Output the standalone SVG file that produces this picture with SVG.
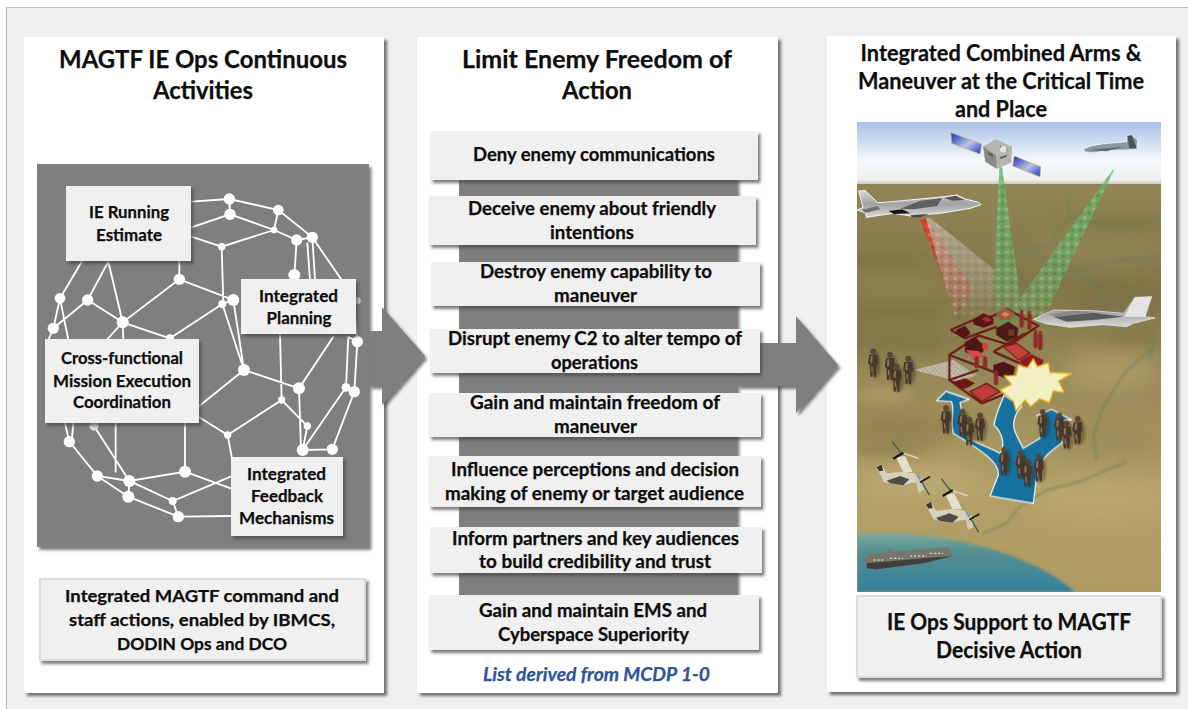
<svg xmlns="http://www.w3.org/2000/svg" width="1188" height="709" viewBox="0 0 1188 709">
<style>
text{font-family:"Lato","Carlito","Liberation Sans",sans-serif;font-weight:700;fill:#0d0d0d;stroke:#0d0d0d;stroke-width:.25px;text-anchor:middle}
.t{font-size:25px}.t3{font-size:23px}.b{font-size:17.5px}.m{font-size:18px}.d{font-size:22px}
.note{font-size:18px;font-style:italic;fill:#2f5597;stroke:#2f5597}
.panel{fill:#fff;filter:url(#sh)}
.box{fill:#f0f0f0;filter:url(#sh2)}
.bbox{fill:#f0f0f0;stroke:#dcdcdc;stroke-width:2;filter:url(#sh2)}
.net{fill:none;stroke:#fff;stroke-width:5.500;stroke-linecap:round}
.nd{fill:#fff}
.river{fill:none;stroke:#66805f;stroke-width:7;stroke-linejoin:round;opacity:.5;filter:url(#bl3)}
.road{fill:none;stroke:#6e1d1c;stroke-width:7;stroke-linejoin:round}
.fig{stroke:#8c2c26;stroke-width:13;stroke-linecap:round;fill:none}
</style>
<defs>
<filter id="sh" x="-5%" y="-5%" width="110%" height="110%"><feDropShadow dx="3" dy="3" stdDeviation="1.6" flood-color="#444" flood-opacity=".75"/></filter>
<filter id="sh2" x="-5%" y="-10%" width="110%" height="125%"><feDropShadow dx="2.5" dy="3" stdDeviation="1.5" flood-color="#444" flood-opacity=".7"/></filter>
<filter id="soft" x="-2%" y="-2%" width="104%" height="104%"><feGaussianBlur stdDeviation="0.6"/></filter>
<filter id="bl1" x="-20%" y="-20%" width="140%" height="140%"><feGaussianBlur stdDeviation="1.5"/></filter>
<filter id="bl3" x="-20%" y="-20%" width="140%" height="140%"><feGaussianBlur stdDeviation="3"/></filter>
<filter id="bl6" x="-40%" y="-80%" width="180%" height="260%"><feGaussianBlur stdDeviation="6"/></filter>
<filter id="bl12" x="-40%" y="-80%" width="180%" height="260%"><feGaussianBlur stdDeviation="12"/></filter>
<linearGradient id="sky" x1="0" y1="0" x2="0" y2="1"><stop offset="0" stop-color="#a6bfe4"/><stop offset=".25" stop-color="#c8d8ee"/><stop offset=".6" stop-color="#f4f8fb"/><stop offset=".9" stop-color="#eef1f1"/><stop offset="1" stop-color="#b8b5a0"/></linearGradient>
<linearGradient id="land" x1="0" y1="0" x2="0" y2="1"><stop offset="0" stop-color="#918556"/><stop offset=".25" stop-color="#82774a"/><stop offset=".5" stop-color="#9a8b58"/><stop offset=".75" stop-color="#b3a068"/><stop offset="1" stop-color="#b09c62"/></linearGradient>
<linearGradient id="sea" x1="0" y1="0" x2="0" y2="1"><stop offset="0" stop-color="#7faa9c"/><stop offset=".3" stop-color="#55908f"/><stop offset="1" stop-color="#347f9c"/></linearGradient>
<linearGradient id="jet" x1="0" y1="0" x2="0" y2="1"><stop offset="0" stop-color="#d8d8d8"/><stop offset=".5" stop-color="#a2a2a2"/><stop offset="1" stop-color="#dadada"/></linearGradient>
<linearGradient id="solar" x1="0" y1="0" x2="1" y2="1"><stop offset="0" stop-color="#1730b8"/><stop offset=".55" stop-color="#b9c4e6"/><stop offset="1" stop-color="#1a35c0"/></linearGradient>
<linearGradient id="gfade" x1="0" y1="0" x2="0" y2="1"><stop offset="0" stop-color="#66b56a" stop-opacity=".8"/><stop offset=".8" stop-color="#6cab68" stop-opacity=".6"/><stop offset="1" stop-color="#6fb46c" stop-opacity=".2"/></linearGradient>
<linearGradient id="rfade" x1="0" y1="0" x2="0" y2="1"><stop offset="0" stop-color="#d8432e" stop-opacity=".95"/><stop offset=".7" stop-color="#bd4c38" stop-opacity=".65"/><stop offset="1" stop-color="#a8705a" stop-opacity="0"/></linearGradient>
<linearGradient id="wfade" x1="0" y1="0" x2="0" y2="1"><stop offset="0" stop-color="#c9bfae" stop-opacity=".7"/><stop offset=".7" stop-color="#a89c86" stop-opacity=".5"/><stop offset="1" stop-color="#968a70" stop-opacity="0"/></linearGradient>
<pattern id="cells" width="26" height="26" patternUnits="userSpaceOnUse"><ellipse cx="7" cy="7" rx="6" ry="5" fill="#fff" opacity=".2"/><ellipse cx="20" cy="19" rx="6" ry="5" fill="#000" opacity=".13"/></pattern>
<pattern id="dots" width="14" height="14" patternUnits="userSpaceOnUse"><circle cx="4" cy="4" r="3" fill="#fff" opacity=".75"/><circle cx="11" cy="11" r="3" fill="#fff" opacity=".55"/></pattern>
<g id="soldier"><ellipse cx="6" cy="3" rx="17" ry="40" fill="#2c2418" opacity=".35" filter="url(#bl3)"/><circle cx="0" cy="-36" r="8.500" fill="#5a4434"/><path d="M-12-26h24l3 26-5 4-2 36h-6l-2-26-3 26h-6l-1-36-6-4z" fill="#4a372a"/><path d="M-8-22h6l-1 20h-6zM-6 10h4v16h-4z" fill="#8a7460"/></g>
<g id="osprey">
<path d="M20 82 35 74 50 100 100 95 135 100 155 110 150 125 120 130 100 136 60 130 42 126Z" fill="#d8d3bf"/>
<path d="M50 122 90 108 118 118 100 136 60 130Z" fill="#4f4d44"/>
<path d="M20 82 35 74 40 92 28 94Z" fill="#39382f"/>
<path d="M78 52 105 48 128 96 100 96Z" fill="#e3dfcd"/>
<path d="M135 112 155 108 162 150 146 158Z" fill="#cfcab6"/>
<path d="M135 100 155 110 150 122Z" fill="#7d9aa8"/>
<path d="M66 4 92 38" stroke="#3f5a56" stroke-width="4"/><path d="M100 40 145 55" stroke="#d6d3c2" stroke-width="5"/>
<path d="M70 56 100 38" stroke="#15150f" stroke-width="7"/>
<path d="M150 127 180 110" stroke="#15150f" stroke-width="5"/><path d="M155 125 178 165" stroke="#3f5a56" stroke-width="4"/>
</g>
</defs>

<rect width="1188" height="709" fill="#fff"/>
<rect x="6.500" y="7.500" width="1190" height="710" fill="#f0f0f0" stroke="#bdbdbd"/>

<g id="panels">
<rect id="panel-1" class="panel" x="24" y="37" width="360" height="656"/>
<rect id="panel-2" class="panel" x="417" y="37" width="361" height="656"/>
<rect id="panel-3" class="panel" x="827" y="36" width="349" height="656"/>
</g>

<g id="panel-1-title">
<text class="t" x="203" y="68" textLength="288" lengthAdjust="spacingAndGlyphs">MAGTF IE Ops Continuous</text>
<text class="t" x="203" y="99" textLength="100" lengthAdjust="spacingAndGlyphs">Activities</text>
</g>
<g id="panel-2-title">
<text class="t" x="597" y="68" textLength="270" lengthAdjust="spacingAndGlyphs">Limit Enemy Freedom of</text>
<text class="t" x="597" y="99" textLength="70" lengthAdjust="spacingAndGlyphs">Action</text>
</g>
<g id="panel-3-title">
<text class="t3" x="1001" y="61" textLength="281" lengthAdjust="spacingAndGlyphs">Integrated Combined Arms &amp;</text>
<text class="t3" x="1001" y="89" textLength="286" lengthAdjust="spacingAndGlyphs">Maneuver at the Critical Time</text>
<text class="t3" x="1001" y="117" textLength="92" lengthAdjust="spacingAndGlyphs">and Place</text>
</g>

<g id="sphere">
<rect x="37" y="164" width="332" height="383" fill="#7f7f7f" filter="url(#sh2)"/>
<g transform="translate(20 150) scale(.33333)">
<path class="net" d="M514 155 628 147 775 180 877 262M775 180 762 240M514 232 630 193 762 240 830 270 877 262 965 390M628 147 630 193M514 260 605 290 762 240M605 290 610 462M830 270 823 375M877 262 885 390M862 280 870 390M478 388V330M478 388 640 450 607 462 450 565M478 388 308 517 450 565M640 450 672 660M607 462 672 660M308 517 203 450 265 335 308 517 260 570M308 517 310 570M203 450 100 535 120 445 185 335M120 445 145 570M100 535 85 570M672 660 535 770M672 660 837 715 940 560M837 715 843 900M780 553 785 750 623 855 535 800M785 750 862 828 848 900 937 898 1003 725 1012 575 985 560 978 712 1003 725M978 712 848 900M623 855 635 920M495 820V965L328 993 222 828M495 965 632 1015M287 820V965M135 820 148 875 232 978 328 993 458 1053 632 980M160 820 155 875M232 978 325 1040 475 1100 632 1098M328 993 325 1040M458 1053 475 1100M1000 440 1012 575"/>
<g class="nd">
<circle cx="628" cy="147" r="17"/><circle cx="775" cy="180" r="16"/><circle cx="630" cy="193" r="17"/><circle cx="762" cy="240" r="10"/><circle cx="830" cy="270" r="17"/><circle cx="877" cy="262" r="17"/><circle cx="605" cy="290" r="11"/><circle cx="823" cy="375" r="18"/><circle cx="478" cy="388" r="17"/><circle cx="640" cy="450" r="18"/><circle cx="607" cy="462" r="12"/><circle cx="120" cy="445" r="16"/><circle cx="203" cy="450" r="17"/><circle cx="100" cy="535" r="17"/><circle cx="308" cy="517" r="18"/><circle cx="450" cy="565" r="12"/><circle cx="672" cy="660" r="18"/><circle cx="837" cy="715" r="18"/><circle cx="785" cy="750" r="11"/><circle cx="1012" cy="575" r="17"/><circle cx="978" cy="712" r="13"/><circle cx="1003" cy="725" r="17"/><circle cx="862" cy="828" r="11"/><circle cx="848" cy="900" r="18"/><circle cx="937" cy="898" r="17"/><circle cx="623" cy="855" r="11"/><circle cx="148" cy="875" r="17"/><circle cx="222" cy="828" r="14" fill="#ddd"/><circle cx="232" cy="978" r="17"/><circle cx="328" cy="993" r="18"/><circle cx="495" cy="965" r="18"/><circle cx="325" cy="1040" r="18"/><circle cx="458" cy="1053" r="12"/><circle cx="475" cy="1100" r="17"/><circle cx="1012" cy="452" r="10" fill="#ddd"/>
</g>
</g>
</g>
<g id="node-running-estimate"><rect class="box" x="66" y="186" width="125" height="75"/>
<text class="b" x="129" y="218" textLength="80" lengthAdjust="spacingAndGlyphs">IE Running</text>
<text class="b" x="129" y="241" textLength="66" lengthAdjust="spacingAndGlyphs">Estimate</text></g>
<g id="node-integrated-planning"><rect class="box" x="241" y="279" width="115" height="55"/>
<text class="b" x="298.500" y="302" textLength="79" lengthAdjust="spacingAndGlyphs">Integrated</text>
<text class="b" x="299" y="324" textLength="65" lengthAdjust="spacingAndGlyphs">Planning</text></g>
<g id="node-cross-functional"><rect class="box" x="45" y="339" width="154" height="84"/>
<text class="b" x="122" y="364" textLength="122" lengthAdjust="spacingAndGlyphs">Cross-functional</text>
<text class="b" x="122" y="387" textLength="138" lengthAdjust="spacingAndGlyphs">Mission Execution</text>
<text class="b" x="122" y="408" textLength="98" lengthAdjust="spacingAndGlyphs">Coordination</text></g>
<g id="node-feedback"><rect class="box" x="231" y="457" width="112" height="79"/>
<text class="b" x="286.500" y="480" textLength="79" lengthAdjust="spacingAndGlyphs">Integrated</text>
<text class="b" x="287" y="502" textLength="72" lengthAdjust="spacingAndGlyphs">Feedback</text>
<text class="b" x="286.500" y="524" textLength="95" lengthAdjust="spacingAndGlyphs">Mechanisms</text></g>
<g id="node-command-staff"><rect class="bbox" x="40" y="579" width="325" height="81"/>
<text class="b" x="202" y="602" textLength="274" lengthAdjust="spacingAndGlyphs">Integrated MAGTF command and</text>
<text class="b" x="202" y="626" textLength="266" lengthAdjust="spacingAndGlyphs">staff actions, enabled by IBMCS,</text>
<text class="b" x="202" y="650" textLength="170" lengthAdjust="spacingAndGlyphs">DODIN Ops and DCO</text></g>

<g id="connectors">
<polygon points="369,331 382,331 382,307 425,356 382,405 382,386 369,386" fill="#7f7f7f" filter="url(#sh2)"/>
<rect x="459" y="175" width="278" height="425" fill="#7f7f7f" filter="url(#sh2)"/>
<polygon points="737,343 796,343 796,316 838,365 796,413 796,386 737,386" fill="#7f7f7f" filter="url(#sh2)"/>
</g>

<g id="node-deny"><rect class="box" x="430" y="131" width="328" height="49"/>
<text class="m" x="594" y="161" textLength="242" lengthAdjust="spacingAndGlyphs">Deny enemy communications</text></g>
<g id="node-deceive"><rect class="box" x="429" y="196" width="327" height="49"/>
<text class="m" x="592" y="215" textLength="248" lengthAdjust="spacingAndGlyphs">Deceive enemy about friendly</text>
<text class="m" x="592" y="239" textLength="84" lengthAdjust="spacingAndGlyphs">intentions</text></g>
<g id="node-destroy"><rect class="box" x="431" y="262" width="329" height="44"/>
<text class="m" x="596" y="278" textLength="232" lengthAdjust="spacingAndGlyphs">Destroy enemy capability to</text>
<text class="m" x="595.500" y="302" textLength="83" lengthAdjust="spacingAndGlyphs">maneuver</text></g>
<g id="node-disrupt"><rect class="box" x="430" y="329" width="330" height="44"/>
<text class="m" x="595" y="345" textLength="294" lengthAdjust="spacingAndGlyphs">Disrupt enemy C2 to alter tempo of</text>
<text class="m" x="594.500" y="369" textLength="87" lengthAdjust="spacingAndGlyphs">operations</text></g>
<g id="node-gain-freedom"><rect class="box" x="429" y="393" width="332" height="44"/>
<text class="m" x="595" y="409" textLength="250" lengthAdjust="spacingAndGlyphs">Gain and maintain freedom of</text>
<text class="m" x="595.500" y="433" textLength="83" lengthAdjust="spacingAndGlyphs">maneuver</text></g>
<g id="node-influence"><rect class="box" x="429" y="456" width="332" height="51"/>
<text class="m" x="595" y="476" textLength="288" lengthAdjust="spacingAndGlyphs">Influence perceptions and decision</text>
<text class="m" x="594.500" y="500" textLength="299" lengthAdjust="spacingAndGlyphs">making of enemy or target audience</text></g>
<g id="node-inform"><rect class="box" x="430" y="527" width="332" height="46"/>
<text class="m" x="595.500" y="545" textLength="287" lengthAdjust="spacingAndGlyphs">Inform partners and key audiences</text>
<text class="m" x="595" y="568" textLength="232" lengthAdjust="spacingAndGlyphs">to build credibility and trust</text></g>
<g id="node-gain-ems"><rect class="box" x="429" y="595" width="330" height="55"/>
<text class="m" x="593" y="617" textLength="228" lengthAdjust="spacingAndGlyphs">Gain and maintain EMS and</text>
<text class="m" x="593.500" y="641" textLength="191" lengthAdjust="spacingAndGlyphs">Cyberspace Superiority</text></g>
<text class="note" x="596.500" y="681" textLength="227" lengthAdjust="spacingAndGlyphs">List derived from MCDP 1-0</text>

<g id="scene">
<clipPath id="sc"><rect x="857" y="122" width="304" height="470"/></clipPath>
<g clip-path="url(#sc)"><g filter="url(#soft)">
<rect x="857" y="122" width="304" height="64" fill="url(#sky)"/>
<rect x="857" y="184" width="304" height="408" fill="url(#land)"/>
<g filter="url(#bl12)">
<ellipse cx="890" cy="340" rx="70" ry="8" fill="#5f5730" opacity=".5"/>
<ellipse cx="900" cy="285" rx="60" ry="7" fill="#b0a26c" opacity=".5"/>
<ellipse cx="1100" cy="250" rx="70" ry="12" fill="#a09260" opacity=".5"/>
<ellipse cx="1120" cy="300" rx="60" ry="10" fill="#6d6436" opacity=".5"/>
<ellipse cx="1110" cy="370" rx="50" ry="18" fill="#c2ad72" opacity=".55"/>
<ellipse cx="900" cy="430" rx="60" ry="10" fill="#6d6238" opacity=".55"/>
<ellipse cx="920" cy="480" rx="60" ry="14" fill="#c7b37a" opacity=".6"/>
<ellipse cx="1100" cy="500" rx="70" ry="20" fill="#c0ac72" opacity=".6"/>
<ellipse cx="1110" cy="445" rx="60" ry="8" fill="#7d7446" opacity=".4"/>
</g>
<g filter="url(#bl6)">
<ellipse cx="880" cy="262" rx="40" ry="3" fill="#665d30" opacity=".5"/>
<ellipse cx="900" cy="312" rx="50" ry="3" fill="#5c5329" opacity=".5"/>
<ellipse cx="885" cy="395" rx="30" ry="4" fill="#c8b57e" opacity=".6"/>
<ellipse cx="1120" cy="225" rx="40" ry="3" fill="#6c6434" opacity=".5"/>
<ellipse cx="1130" cy="340" rx="28" ry="3" fill="#6c6434" opacity=".5"/>
<ellipse cx="890" cy="450" rx="40" ry="3" fill="#5c5329" opacity=".5"/>
</g>
<g transform="translate(840 120) scale(.33333)">
<path class="river" d="M680 240 690 290 640 340 650 372 560 390 620 415 700 460 770 500 780 540 900 590 945 650 930 720"/>
<path class="river" d="M965 408 800 425 700 460M965 300 800 320 690 290"/>
</g>
<g transform="translate(840 350) scale(.33333)">
<path class="river" d="M935 0 860 60 790 170 760 260 770 330M860 335 720 395 620 420 540 470 500 520 430 550"/>
</g>
<path d="M857 535C890 530 925 535 960 541 1000 550 1045 565 1075 592H857Z" fill="url(#sea)" filter="url(#bl1)"/>

<g transform="translate(840 120) scale(.33333)">
<polygon points="238,295 262,295 400,510 350,600 330,530" fill="url(#rfade)"/>
<polygon points="238,295 262,295 400,510 350,600 330,530" fill="url(#cells)"/>
<polygon points="258,295 272,295 465,450 460,570 345,600" fill="url(#wfade)"/>
<polygon points="258,295 272,295 465,450 460,570 345,600" fill="url(#cells)" opacity=".6"/>
<polygon points="478,140 486,140 548,580 458,580" fill="url(#gfade)"/>
<polygon points="478,140 486,140 548,580 458,580" fill="url(#cells)"/>
<polygon points="818,150 822,150 610,600 515,570" fill="url(#gfade)"/>
<polygon points="818,150 822,150 610,600 515,570" fill="url(#cells)"/>

<g id="satellite">
<polygon points="333,38 425,72 420,102 335,70" fill="url(#solar)" stroke="#c9b061" stroke-width="2"/>
<polygon points="523,108 602,140 600,170 518,138" fill="url(#solar)" stroke="#c9b061" stroke-width="2"/>
<polygon points="430,80 468,58 516,80 514,128 470,146 436,125" fill="#b4b4b0"/>
<polygon points="430,80 468,106 470,146 436,125" fill="#8a8a86"/>
<path d="M445 100l14 8M480 80l22 10M480 115l20-8" stroke="#55554f" stroke-width="5"/>
<circle cx="490" cy="88" r="10" fill="#e6e6e0"/>
</g>
<g id="global-hawk">
<path d="M730 88C760 70 800 72 860 65L862 48 875 45 893 60 890 88 850 90 800 92 760 98 735 96Z" fill="#8b9a9c" stroke="#fff" stroke-width="2"/>
<path d="M862 48 875 45 890 85 868 85Z" fill="#46525a"/>
<path d="M745 90 850 80 800 94Z" fill="#5c6a6e"/>
</g>
<g id="f35">
<path d="M580 598 640 570 760 572 852 580 885 532 935 530 915 590 945 594 880 610 860 620 790 614 690 622 620 612Z" fill="url(#jet)" stroke="#eee" stroke-width="2"/>
<path d="M885 532 935 530 915 590 852 590Z" fill="#e4e4e4"/>
<path d="M640 590 760 578 850 590 760 600 680 605Z" fill="#5a5a5a"/>
<path d="M620 584 700 572 760 576 660 590Z" fill="#8a8a8a"/>
</g>
</g>
<g id="harrier" transform="translate(857 130) scale(.33333)">
<path d="M5 183 25 182 62 218 105 215 190 207 260 200 300 195 325 207 365 217 372 224 340 235 250 250 190 255 160 258 110 250 55 258 28 262 25 248 0 240 18 232Z" fill="url(#jet)" stroke="#f4f4f4" stroke-width="3"/>
<path d="M15 240 60 228 70 238 25 248Z" fill="#6e6e6e"/>
<path d="M130 236 190 212 255 205 240 228 170 238Z" fill="#5f5f5f"/>
<path d="M95 243 135 238 160 250 110 252Z" fill="#141414"/>
<path d="M262 204 295 197 322 210 285 212Z" fill="#555"/>
<path d="M160 256 215 252 190 262 165 262Z" fill="#444"/>
</g>

<g id="target" transform="translate(910 295) scale(.33333)">
<polygon points="250,60 290,42 328,65 285,92" fill="#5f8f50" opacity=".9"/>
<polygon points="10,225 130,195 205,240 140,258" fill="#bcb7a4" opacity=".75"/>
<polygon points="10,225 130,195 205,240 140,258" fill="url(#dots)" opacity=".55"/>
<polygon points="120,180 205,148 310,210 200,252" fill="#8f8a64" opacity=".45"/>
<path class="road" d="M122 105 190 75M122 105 165 130 260 95M250 62 290 42 385 92 300 150 205 122 118 180 270 238M250 170 345 115M250 170 330 205M118 180 118 255 215 325 290 295M118 255 205 225M190 75 255 62"/>
<polygon points="138,105 165,92 180,110 180,118 160,130 138,115" fill="#4d1416"/>
<polygon points="190,72 220,55 250,70 250,88 220,98 190,88" fill="#5a1618"/>
<path d="M215 72l15-8 15 12-15 6z" fill="#a62a2a"/>
<polygon points="258,55 285,38 315,55 300,75 270,75" fill="#9c5a40"/>
<path d="M272 58l14-8 14 8-12 8z" fill="#d08a68"/>
<polygon points="258,100 295,80 325,100 322,125 290,140 258,120" fill="#4a1f18"/>
<path d="M295 104h18v18h-18z" fill="#7a3a28"/>
<polygon points="165,140 195,125 220,150 220,170 190,185 165,170" fill="#4d1416"/>
<path d="M168 165 205 168 225 185 190 195Z" fill="#d8494a"/>
<path d="M225 142a9 12 0 1 0 .1 0z" fill="#d8403a"/>
<polygon points="280,155 320,145 360,175 325,195" fill="#c8413c" stroke="#7a1f1f" stroke-width="4"/>
<polygon points="330,195 365,178 400,195 395,215 360,228 335,215" fill="#8e1e20"/>
<polygon points="250,210 280,200 315,215 310,240 285,250 250,235" fill="#4d1416"/>
<polygon points="180,290 230,265 270,290 215,320" fill="#c23a38" stroke="#6e1d1c" stroke-width="4"/>
<polygon points="130,260 165,250 195,265 170,280 150,282" fill="#6d1618"/>
<g class="fig"><path d="M335 60v32M358 62v36M377 118v36M391 122v38M200 190v24M225 190v24M258 232v32"/></g>
<g class="fig" style="stroke-width:9"><path d="M335 48v4M358 52v4M377 108v4M391 112v4"/></g>

<g transform="translate(-210 165)">
<path d="M450 438 475 375C478 340 440 310 340 250 330 215 345 190 335 155L290 152 318 124 388 148 360 158C370 200 370 240 385 265 420 285 455 295 480 310 495 290 490 250 462 225 470 180 485 160 492 135L545 170C525 190 515 220 525 245 535 270 545 285 550 295L600 265 605 195 590 197 635 178 695 210 665 210 665 280C620 310 600 330 590 380L580 460Z" fill="#17719e" stroke="#e8eef0" stroke-width="4" stroke-linejoin="round"/>
<use href="#soldier" x="100" y="40"/><use href="#soldier" x="150" y="50"/><use href="#soldier" x="170" y="85"/><use href="#soldier" x="205" y="62"/>
</g>
<polygon points="370,192 382,215 415,203 420,232 485,235 446,258 462,292 430,288 418,322 388,312 362,335 345,315 318,348 310,318 270,285 305,268 282,242 318,242 325,210 352,218" fill="#f3f1c4" stroke="#e6b31f" stroke-width="4" stroke-linejoin="round"/>
<g transform="translate(-210 165)">
<use href="#soldier" x="318" y="210"/><use href="#soldier" x="368" y="220"/><use href="#soldier" x="388" y="245"/><use href="#soldier" x="420" y="232"/>
<use href="#soldier" x="492" y="335"/><use href="#soldier" x="542" y="345"/><use href="#soldier" x="562" y="370"/><use href="#soldier" x="597" y="355"/>
<use href="#soldier" x="608" y="222"/><use href="#soldier" x="658" y="232"/><use href="#soldier" x="680" y="256"/><use href="#soldier" x="713" y="242"/>
</g>
</g>
<g id="ospreys" transform="translate(870 440) scale(.33333)">
<use href="#osprey"/><use href="#osprey" x="148" y="112"/>
</g>
<g id="ship" transform="translate(840 350) scale(.33333)">
<polygon points="72,630 90,612 140,608 150,595 160,605 325,592 338,618 250,640 110,658 80,655" fill="#77776c"/>
<polygon points="80,640 250,625 338,618 250,640 110,658 80,655" fill="#3f3f3a"/>
<path d="M100 630h30M150 625h40M210 618h50M270 610h40" stroke="#c9c9bc" stroke-width="4" stroke-dasharray="7 5"/>
</g>
</g></g>
</g>

<g id="node-decisive-action"><rect class="bbox" x="857" y="596" width="304" height="81"/>
<text class="d" x="1009" y="630" textLength="244" lengthAdjust="spacingAndGlyphs">IE Ops Support to MAGTF</text>
<text class="d" x="1009" y="658" textLength="146" lengthAdjust="spacingAndGlyphs">Decisive Action</text></g>
</svg>
